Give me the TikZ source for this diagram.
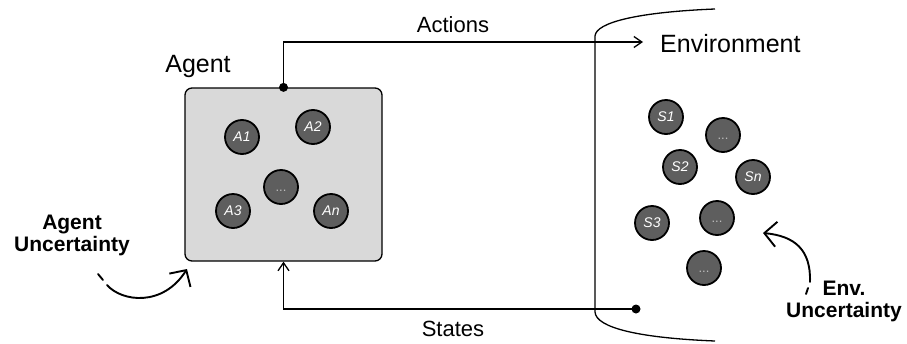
\documentclass[tikz,border=0pt]{standalone}
\usepackage{fontspec}
\setmainfont{Liberation Sans}
\usetikzlibrary{arrows.meta}
\definecolor{agentgray}{HTML}{D9D9D9}
\definecolor{circgray}{HTML}{5E5E5E}
\definecolor{dotgray}{HTML}{BDBDBD}
\begin{document}
\begin{tikzpicture}[x=1pt,y=-1pt,
  circ/.style={circle, draw=black, line width=1.8pt, fill=circgray, minimum size=34pt, inner sep=0pt, text=white, font=\fontsize{14}{16}\selectfont\itshape},
  dotscirc/.style={circ, text=dotgray, font=\fontsize{13}{15}\selectfont, text height=8pt, text depth=0pt},
  lbl/.style={font=\fontsize{22}{26}\selectfont, inner sep=0pt, anchor=base},
  biglbl/.style={font=\fontsize{25}{30}\selectfont, inner sep=0pt, anchor=base},
  unclbl/.style={font=\fontsize{21}{22}\selectfont\bfseries, align=center, inner sep=0pt},
  conn/.style={line width=1.3pt},
  enddot/.style={circle, fill=black, inner sep=0pt, minimum size=9pt},
  barb/.style={-{Straight Barb[length=8pt,width=11pt,line width=1.3pt]}},
  uncline/.style={line width=1.9pt, line cap=round},
  bigbarb/.style={-{Straight Barb[length=12pt,width=25pt,line width=1.9pt]}}
]
\useasboundingbox (0,0) rectangle (907,343);

% Agent box
\node[draw=black, fill=agentgray, rounded corners=7pt, line width=1.3pt,
      minimum width=197pt, minimum height=173pt, inner sep=0pt] (agent) at (283.5,174.5) {};
\node[biglbl] (agentlbl) at (198,72) {Agent};

\node[circ] (a1) at (242,137) {A1};
\node[circ] (a2) at (313,127) {A2};
\node[dotscirc] (adots) at (281,187) {...};
\node[circ] (a3) at (233,211) {A3};
\node[circ] (an) at (331,211) {An};

% Environment bracket
\draw[line width=1.3pt] (715,9) .. controls (640,12) and (596,22) .. (595,36)
  -- (595,312) .. controls (596,328) and (640,338) .. (715,341);
\node[biglbl, anchor=base west] (envlbl) at (660,52) {Environment};

\node[circ] (s1) at (666,117) {S1};
\node[dotscirc] (sd1) at (723,135) {...};
\node[circ] (s2) at (680,167) {S2};
\node[circ] (sn) at (753,177) {Sn};
\node[dotscirc] (sd2) at (717,218) {...};
\node[circ] (s3) at (652,223) {S3};
\node[dotscirc] (sd3) at (704,268) {...};

% Actions
\node[enddot] (adot) at (agent.north) {};
\coordinate (acttip) at (643,42);
\draw[conn, barb] (adot.center) |- (acttip);
\node[lbl] (actlbl) at (453,32) {Actions};

% States
\node[enddot] (sdot) at (636,309) {};
\draw[conn, barb] (sdot.center) -| (agent.south);
\node[lbl] (stlbl) at (453,336) {States};

% Agent uncertainty
\node[unclbl] (aunc) at (72,235) {Agent\\Uncertainty};
\coordinate (au0) at (98,274);
\coordinate (au1) at (103,280);
\coordinate (au2) at (107,285);
\coordinate (au3) at (187,269);
\draw[uncline] (au0) -- (au1);
\draw[uncline, bigbarb] (au2) .. controls (122,302) and (163,307) .. (au3);

% Env uncertainty
\node[unclbl] (eunc) at (844,301) {Env.\\Uncertainty};
\coordinate (eu0) at (806,294);
\coordinate (eu1) at (808,288);
\coordinate (eu2) at (810,282);
\coordinate (eu3) at (763,233);
\draw[uncline] (eu0) -- (eu1);
\draw[uncline, bigbarb] (eu2) .. controls (811,250) and (795,236) .. (eu3);
\end{tikzpicture}
\end{document}
